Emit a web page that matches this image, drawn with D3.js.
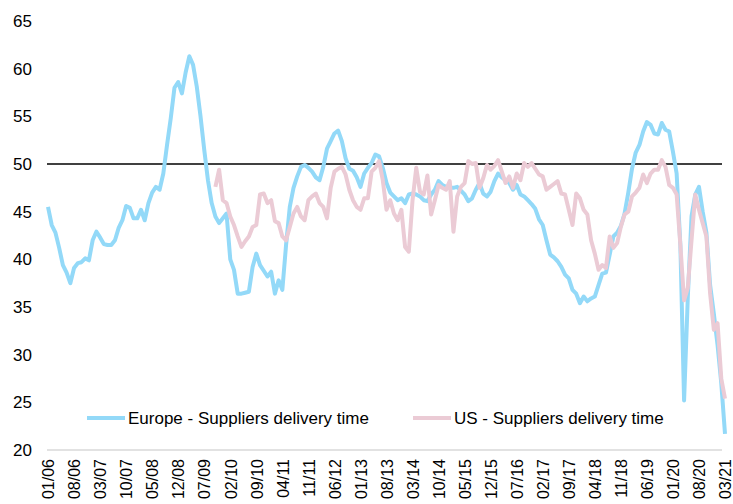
<!DOCTYPE html>
<html>
<head>
<meta charset="utf-8">
<script src="https://cdn.jsdelivr.net/npm/d3@7"></script>
<style>
    body { margin: 0; background: #fff; }
    text { font-family: Arial, "Liberation Sans", sans-serif; fill: #000; }
</style>
</head>
<body>
<div id="chart"></div>
<script>
/* month labels shown on the axis, one every 7 months from 01/06 */
var tickLabels = ["01/06", "08/06", "03/07", "10/07", "05/08", "12/08", "07/09", "02/10", "09/10",
    "04/11", "11/11", "06/12", "01/13", "08/13", "03/14", "10/14", "05/15", "12/15", "07/16",
    "02/17", "09/17", "04/18", "11/18", "06/19", "01/20", "08/20", "03/21"];
var tickStep = 7;

var yTicks = [20, 25, 30, 35, 40, 45, 50, 55, 60, 65];
var refLevel = 50;

var seriesNames = ["Europe - Suppliers delivery time", "US - Suppliers delivery time"];

/* monthly values, 01/06 .. 03/21 */
var europe = [
    45.5, 43.6, 42.8, 41.2, 39.4, 38.6, 37.5, 39.1, 39.6, 39.7,
    40.1, 39.9, 42.0, 42.9, 42.3, 41.6, 41.5, 41.5, 42.0, 43.3,
    44.1, 45.6, 45.4, 44.3, 44.3, 45.2, 44.1, 45.9, 47.0, 47.6,
    47.3, 49.0, 52.0, 54.8, 58.0, 58.6, 57.4, 59.6, 61.3, 60.4,
    58.1, 55.0, 51.5, 48.3, 45.9, 44.5, 43.8, 44.3, 44.8, 40.0,
    38.9, 36.4, 36.4, 36.5, 36.6, 39.2, 40.6, 39.4, 38.8, 38.2,
    38.7, 36.4, 37.8, 36.8, 41.5, 45.5, 47.5, 48.7, 49.7, 49.9,
    49.6, 49.2, 48.6, 48.3, 49.7, 51.6, 52.4, 53.2, 53.5, 52.4,
    50.6, 49.5, 49.3, 48.6, 47.6, 49.0, 49.6, 50.1, 51.0, 50.8,
    49.6, 48.0, 47.0, 46.6, 46.2, 46.4, 45.9, 46.8, 46.9, 46.8,
    46.6, 46.2, 46.1, 46.8, 47.3, 48.2, 47.8, 47.6, 47.5, 47.5,
    47.6, 47.2, 46.8, 46.1, 46.4, 47.3, 48.0, 46.9, 46.6, 47.1,
    48.2, 49.0, 48.6, 48.3, 48.0, 47.3, 47.8, 46.8, 46.6, 46.2,
    45.8, 45.3, 44.2, 43.6, 42.0, 40.5, 40.2, 39.8, 39.2, 38.4,
    38.0, 36.8, 36.4, 35.4, 36.1, 35.6, 35.9, 36.1, 37.3, 38.5,
    38.6, 40.5, 42.4, 42.8, 43.5, 44.8, 47.0, 49.5, 51.2, 52.0,
    53.4, 54.4, 54.1, 53.2, 53.1, 54.3, 53.6, 53.4, 51.3, 49.0,
    41.5, 25.2, 36.0, 44.5, 46.8, 47.6, 45.0, 42.8, 37.3, 34.3,
    31.0, 27.0, 21.7
];

/* US starts at 10/09 (month index 45) */
var usStart = 45;
var us = [
    47.6, 49.4, 46.2, 45.9, 44.5,
    43.6, 42.4, 41.3, 41.9, 42.4, 43.4, 43.6, 46.8, 46.9, 45.9,
    46.2, 44.0, 43.8, 42.4, 42.0, 43.4, 44.8, 45.5, 44.5, 44.1,
    46.2, 46.6, 46.9, 45.9, 45.5, 44.3, 47.5, 49.2, 49.5, 49.7,
    48.9, 47.3, 46.2, 45.5, 45.2, 46.4, 46.4, 49.2, 49.6, 50.3,
    48.3, 45.2, 46.2, 44.8, 44.1, 45.2, 41.3, 40.8, 46.2, 49.6,
    47.1, 46.8, 48.8, 44.7, 46.2, 47.8, 47.5, 47.3, 48.2, 42.9,
    46.6, 47.6, 48.0, 50.3, 50.0, 50.1, 47.5, 48.5, 49.9, 49.4,
    49.8, 50.4, 49.2, 48.0, 48.7, 47.5, 49.0, 48.3, 50.1, 49.7,
    50.1, 49.5, 48.9, 48.7, 47.3, 47.6, 47.9, 48.2, 46.9, 46.8,
    45.2, 43.6, 46.9, 46.4, 45.2, 44.7, 42.0, 40.6, 38.9, 39.4,
    39.1, 42.4, 41.2, 41.7, 43.4, 44.7, 45.0, 46.6, 47.0, 47.5,
    48.9, 48.0, 49.0, 49.4, 49.4, 50.4, 49.7, 47.8, 47.5, 46.8,
    41.5, 35.7, 37.0, 42.0, 46.8, 45.2, 43.8, 42.4, 36.4, 32.6,
    33.3, 27.5, 25.4
];

var colors = ["#93d9f8", "#ebcbd5"];

render();

function render() {

    var w = 733, h = 504;
    var left = 48, right = 725, top = 21, bottom = 450;

    var svg = d3.select("#chart").append("svg")
        .attr("width", w)
        .attr("height", h);

    var x = d3.scaleLinear()
        .domain([0, europe.length - 1])
        .range([left, right]);

    var y = d3.scaleLinear()
        .domain([d3.min(yTicks), d3.max(yTicks)])
        .range([bottom, top]);

    // y axis, labels only
    var yAxis = svg.append("g")
        .attr("transform", "translate(" + (left - 1) + ",0)")
        .call(d3.axisLeft(y).tickValues(yTicks).tickSize(0).tickPadding(15));
    yAxis.select(".domain").remove();
    yAxis.selectAll("text")
        .style("font-size", "17px")
        .style("font-family", "Arial, 'Liberation Sans', sans-serif")
        .attr("fill", "#000");

    // x axis: light base line and rotated month labels
    svg.append("line")
        .attr("x1", left - 1)
        .attr("x2", right - 3)
        .attr("y1", y(20))
        .attr("y2", y(20))
        .attr("stroke", "#d9d9d9")
        .attr("stroke-width", 1.5);

    var xAxis = svg.append("g")
        .attr("transform", "translate(0," + y(20) + ")")
        .call(d3.axisBottom(x)
            .tickValues(d3.range(0, europe.length, tickStep))
            .tickSize(0)
            .tickFormat(function (d, i) { return tickLabels[i]; }));
    xAxis.select(".domain").remove();
    xAxis.selectAll("text")
        .attr("transform", "rotate(-90)")
        .attr("x", -9)
        .attr("y", 0)
        .attr("dy", "0.36em")
        .style("text-anchor", "end")
        .style("font-size", "16px")
        .style("font-family", "Arial, 'Liberation Sans', sans-serif")
        .attr("fill", "#000");

    // 50 line
    svg.append("line")
        .attr("x1", left - 1)
        .attr("x2", right - 3)
        .attr("y1", y(refLevel))
        .attr("y2", y(refLevel))
        .attr("stroke", "#000")
        .attr("stroke-width", 1.5);

    var line = d3.line()
        .x(function (d) { return x(d.i); })
        .y(function (d) { return y(d.v); });

    var eu = europe.map(function (v, i) { return {i: i, v: v}; });
    var usPts = us.map(function (v, i) { return {i: i + usStart, v: v}; });

    svg.append("path")
        .datum(eu)
        .attr("d", line)
        .attr("fill", "none")
        .attr("stroke", colors[0])
        .attr("stroke-width", 4)
        .attr("stroke-linejoin", "round");

    svg.append("path")
        .datum(usPts)
        .attr("d", line)
        .attr("fill", "none")
        .attr("stroke", colors[1])
        .attr("stroke-width", 4)
        .attr("stroke-linejoin", "round");

    // legend
    var legendX = [87, 413];
    var legend = svg.selectAll(".legend")
        .data(seriesNames)
        .enter().append("g")
        .attr("class", "legend")
        .attr("transform", function (d, i) {
            return "translate(" + legendX[i] + ",418)";
        });

    legend.append("line")
        .attr("x1", 0)
        .attr("x2", 38)
        .attr("stroke", function (d, i) { return colors[i]; })
        .attr("stroke-width", 4);

    legend.append("text")
        .attr("x", 41)
        .attr("dy", "0.36em")
        .style("font-size", "17px")
        .text(function (d) { return d; });
}
</script>
</body>
</html>
